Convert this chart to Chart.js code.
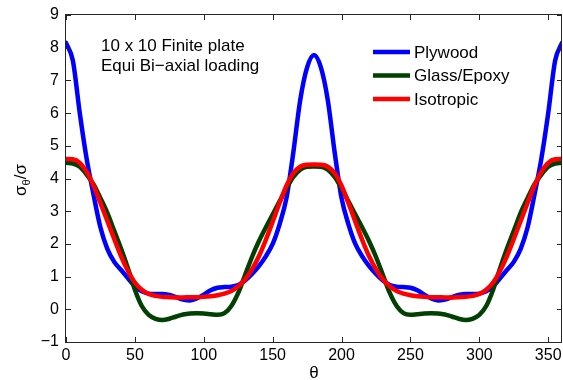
<!doctype html>
<html>

<head>
    <meta charset="utf-8" />
    <title>Finite plate stress concentration</title>
    <style>
        html,
        body {
            margin: 0px;
            padding: 0px;
            background-color: #ffffff;
        }

        .wrap {
            width: 563px;
            height: 380px;
        }
    </style>
</head>

<body>

    <div class="wrap">
        <canvas id="chart_stress" width="563" height="380"></canvas>
    </div>

    <script src="https://cdn.jsdelivr.net/npm/chart.js"></script>

    <script>

        // angle theta in degrees, 0..360 every 5
        var angles = [
            0, 5, 10, 15, 20, 25, 30, 35, 40, 45, 50, 55, 60, 65, 70, 75, 80, 85, 90,
            95, 100, 105, 110, 115, 120, 125, 130, 135, 140, 145, 150, 155, 160, 165, 170, 175, 180,
            185, 190, 195, 200, 205, 210, 215, 220, 225, 230, 235, 240, 245, 250, 255, 260, 265, 270,
            275, 280, 285, 290, 295, 300, 305, 310, 315, 320, 325, 330, 335, 340, 345, 350, 355, 360
        ];

        var plywood = [
            8.15, 7.6, 6.0, 4.6, 3.5, 2.5, 1.85, 1.45, 1.2, 0.95, 0.7, 0.55, 0.48, 0.47, 0.47, 0.44, 0.37, 0.3, 0.27,
            0.33, 0.45, 0.58, 0.66, 0.68, 0.69, 0.74, 0.88, 1.08, 1.32, 1.62, 2.0, 2.6, 3.4, 4.8, 6.4, 7.4, 7.78,
            7.4, 6.4, 4.8, 3.4, 2.6, 2.0, 1.62, 1.32, 1.08, 0.88, 0.74, 0.69, 0.68, 0.66, 0.58, 0.45, 0.33, 0.27,
            0.3, 0.37, 0.44, 0.47, 0.47, 0.48, 0.55, 0.7, 0.95, 1.2, 1.45, 1.85, 2.5, 3.5, 4.6, 6.0, 7.6, 8.15
        ];

        var glassEpoxy = [
            4.48, 4.46, 4.36, 4.12, 3.82, 3.4, 2.95, 2.4, 1.85, 1.25, 0.6, 0.1, -0.17, -0.29, -0.33, -0.29, -0.22, -0.16, -0.13,
            -0.12, -0.13, -0.15, -0.17, -0.12, 0.1, 0.5, 1.05, 1.6, 2.08, 2.5, 2.9, 3.3, 3.7, 4.05, 4.27, 4.36, 4.37,
            4.36, 4.27, 4.05, 3.7, 3.3, 2.9, 2.5, 2.08, 1.6, 1.05, 0.5, 0.1, -0.12, -0.17, -0.15, -0.13, -0.12, -0.13,
            -0.16, -0.22, -0.29, -0.33, -0.29, -0.17, 0.1, 0.6, 1.25, 1.85, 2.4, 2.95, 3.4, 3.82, 4.12, 4.36, 4.46, 4.48
        ];

        var isotropic = [
            4.6, 4.59, 4.48, 4.2, 3.78, 3.25, 2.7, 2.15, 1.62, 1.17, 0.82, 0.6, 0.47, 0.41, 0.38, 0.37, 0.36, 0.36, 0.37,
            0.37, 0.38, 0.4, 0.43, 0.48, 0.56, 0.7, 0.92, 1.22, 1.62, 2.12, 2.68, 3.25, 3.78, 4.16, 4.36, 4.42, 4.43,
            4.42, 4.36, 4.16, 3.78, 3.25, 2.68, 2.12, 1.62, 1.22, 0.92, 0.7, 0.56, 0.48, 0.43, 0.4, 0.38, 0.37, 0.37,
            0.36, 0.36, 0.37, 0.38, 0.41, 0.47, 0.6, 0.82, 1.17, 1.62, 2.15, 2.7, 3.25, 3.78, 4.2, 4.48, 4.59, 4.6
        ];

        var seriesNames = ['Plywood', 'Glass/Epoxy', 'Isotropic'];
        var seriesColors = ['#0000ff', '#004000', '#ff0000'];
        var noteLines = ['10 x 10 Finite plate', 'Equi Bi\u2212axial loading'];

        var FONT = '"Liberation Sans", Arial, Helvetica, sans-serif';

        function points(values) {
            return angles.map(function (a, i) { return { x: a, y: values[i] }; });
        }

        // box, inward ticks, titles, note text and legend (matlab look)
        var axesPlugin = {
            id: 'axesLook',
            afterDatasetsDraw: function (chart) {
                var ctx = chart.ctx;
                var a = chart.chartArea;
                var xs = chart.scales.x;
                var ys = chart.scales.y;
                var len = 5;

                ctx.save();
                ctx.strokeStyle = '#262626';
                ctx.lineWidth = 1;
                ctx.strokeRect(a.left - 0.5, a.top - 0.5, a.right - a.left, a.bottom - a.top + 1);

                ctx.beginPath();
                xs.ticks.forEach(function (t) {
                    var px = Math.round(xs.getPixelForValue(t.value)) + 0.5;
                    ctx.moveTo(px, a.bottom);
                    ctx.lineTo(px, a.bottom - len);
                    ctx.moveTo(px, a.top);
                    ctx.lineTo(px, a.top + len);
                });
                ys.ticks.forEach(function (t) {
                    var py = Math.round(ys.getPixelForValue(t.value)) + 0.5;
                    ctx.moveTo(a.left, py);
                    ctx.lineTo(a.left + len, py);
                    ctx.moveTo(a.right, py);
                    ctx.lineTo(a.right - len, py);
                });
                ctx.stroke();

                ctx.fillStyle = '#000000';

                // x title
                ctx.font = '17px ' + FONT;
                ctx.textAlign = 'center';
                ctx.textBaseline = 'alphabetic';
                ctx.fillText('\u03b8', (a.left + a.right) / 2, 378);

                // y title: sigma_theta / sigma
                ctx.save();
                ctx.translate(26, 180);
                ctx.rotate(-Math.PI / 2);
                ctx.textAlign = 'left';
                ctx.font = '17px ' + FONT;
                var w1 = ctx.measureText('\u03c3').width;
                var w3 = ctx.measureText('/\u03c3').width;
                ctx.font = '11px ' + FONT;
                var w2 = ctx.measureText('\u03b8').width;
                var x0 = -(w1 + w2 + w3) / 2;
                ctx.font = '17px ' + FONT;
                ctx.fillText('\u03c3', x0, 0);
                ctx.font = '11px ' + FONT;
                ctx.fillText('\u03b8', x0 + w1, 4);
                ctx.font = '17px ' + FONT;
                ctx.fillText('/\u03c3', x0 + w1 + w2, 0);
                ctx.restore();

                // note
                ctx.font = '17px ' + FONT;
                ctx.textAlign = 'left';
                ctx.textBaseline = 'alphabetic';
                noteLines.forEach(function (line, i) {
                    ctx.fillText(line, 101, 51 + i * 20);
                });

                // legend
                ctx.textBaseline = 'middle';
                chart.data.datasets.forEach(function (ds, i) {
                    var y = 52 + i * 23.5;
                    ctx.strokeStyle = ds.borderColor;
                    ctx.lineWidth = 4.5;
                    ctx.beginPath();
                    ctx.moveTo(373, y);
                    ctx.lineTo(410, y);
                    ctx.stroke();
                    ctx.fillStyle = '#000000';
                    ctx.fillText(ds.label, 414, y + 1);
                });

                ctx.restore();
            }
        };

        var ctx_stress = document.getElementById('chart_stress').getContext('2d');
        var chart_stress = new Chart(ctx_stress, {
            type: 'line',
            data: {
                datasets: [
                    {
                        label: seriesNames[0],
                        borderColor: seriesColors[0],
                        backgroundColor: 'transparent',
                        data: points(plywood),
                        order: 3
                    },
                    {
                        label: seriesNames[1],
                        borderColor: seriesColors[1],
                        backgroundColor: 'transparent',
                        data: points(glassEpoxy),
                        order: 2
                    },
                    {
                        label: seriesNames[2],
                        borderColor: seriesColors[2],
                        backgroundColor: 'transparent',
                        data: points(isotropic),
                        order: 1
                    }
                ]
            },
            options: {
                animation: false,
                responsive: false,
                devicePixelRatio: 1,
                layout: {
                    padding: { top: 15, right: 1, left: 0, bottom: 0 }
                },
                elements: {
                    point: { radius: 0 },
                    line: { borderWidth: 4.5, cubicInterpolationMode: 'monotone', borderCapStyle: 'round', borderJoinStyle: 'round' }
                },
                plugins: {
                    legend: { display: false },
                    tooltip: { enabled: false }
                },
                scales: {
                    x: {
                        type: 'linear',
                        min: 0,
                        max: 360,
                        grid: { display: false, drawTicks: false },
                        border: { display: false },
                        ticks: {
                            stepSize: 50,
                            includeBounds: false,
                            autoSkip: false,
                            maxRotation: 0,
                            padding: 4,
                            color: '#000000',
                            font: { family: FONT, size: 16 }
                        },
                        afterFit: function (scale) {
                            scale.height = 38;
                            scale.paddingLeft = 0;
                            scale.paddingRight = 0;
                        }
                    },
                    y: {
                        min: -1,
                        max: 9,
                        grid: { display: false, drawTicks: false },
                        border: { display: false },
                        ticks: {
                            stepSize: 1,
                            padding: 7,
                            color: '#000000',
                            font: { family: FONT, size: 16 },
                            callback: function (v) { return v < 0 ? '\u2212' + Math.abs(v) : v; }
                        },
                        afterFit: function (scale) {
                            scale.width = 66;
                            scale.paddingTop = 0;
                            scale.paddingBottom = 0;
                        }
                    }
                }
            },
            plugins: [axesPlugin]
        });

    </script>

</body>

</html>
